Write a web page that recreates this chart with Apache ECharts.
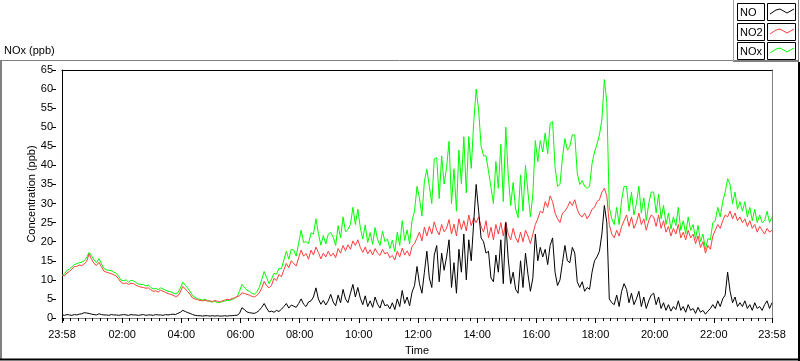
<!DOCTYPE html>
<html>
<head>
<meta charset="utf-8">
<script src="https://cdn.jsdelivr.net/npm/echarts@6/dist/echarts.min.js"></script>
<style>
html,body{margin:0;padding:0;background:#fff;}
#chart{width:800px;height:361px;}
</style>
</head>
<body>
<div id="chart"></div>
<script>
// ---- data ----
const chartTitle = 'NOx (ppb)';
const seriesNames = ['NO', 'NO2', 'NOx'];
const startMinute = -2;      // 23:58 of previous day
const stepMinutes = 5;
const xMin = -2, xMax = 1438;
const majorTickMinutes = [-2, 120, 240, 360, 480, 600, 720, 840, 960, 1080, 1200, 1320, 1438];
const yTicks = [0, 65, 5]; // min, max, interval

const no2Values = [
  11.3,11.0,11.8,12.2,12.8,13.5,13.5,13.9,13.7,14.2,14.8,16.8,
  15.4,14.3,13.8,14.6,13.4,12.3,12.0,11.8,11.6,11.3,11.0,10.2,
  9.3,9.0,9.2,8.8,9.1,9.0,8.6,8.3,8.1,8.0,7.8,7.9,
  7.4,7.0,7.1,6.8,7.3,7.0,6.7,6.4,6.2,6.0,5.6,5.8,
  6.8,8.3,7.6,6.9,6.2,5.2,5.0,4.8,4.6,4.5,4.7,4.4,
  4.5,4.3,4.6,4.4,4.2,4.5,4.7,4.9,4.8,5.1,5.3,5.6,
  5.8,6.6,6.4,6.2,6.0,5.7,5.5,5.9,6.6,7.8,9.6,8.4,
  7.9,8.6,10.4,9.8,11.4,10.8,12.6,14.3,13.2,15.0,14.3,13.6,
  15.8,17.8,16.2,16.9,15.4,17.8,16.5,18.6,17.2,15.5,17.0,16.0,
  17.5,16.2,17.0,15.8,18.2,17.0,19.0,17.6,19.2,18.0,20.2,19.0,
  20.5,18.5,17.2,18.6,16.8,17.9,16.5,18.2,17.0,16.4,18.0,16.8,
  17.2,15.8,16.4,15.2,17.5,16.0,18.3,16.5,17.6,16.2,18.8,19.5,
  21.0,22.5,20.2,23.8,21.5,24.0,22.0,25.2,23.0,21.8,24.5,22.6,
  23.5,25.8,22.0,24.6,21.5,26.0,23.2,25.5,22.8,27.0,24.2,26.2,
  25.0,26.5,24.0,22.5,25.5,21.0,23.8,20.5,24.5,22.0,25.0,21.5,
  25.2,22.0,20.5,23.5,21.0,19.8,22.5,20.0,23.0,21.5,19.5,22.0,
  24.5,26.0,28.0,27.5,30.5,29.0,32.0,30.5,27.5,26.0,25.0,27.5,
  28.0,29.0,30.5,29.5,31.0,28.5,27.0,26.5,27.5,26.0,27.0,28.5,
  29.0,30.5,31.0,33.0,34.0,32.0,24.5,22.0,21.0,23.0,21.5,24.0,
  25.5,27.0,24.0,26.5,23.5,25.0,27.5,24.5,26.0,23.0,25.5,27.0,
  26.5,24.0,27.0,23.5,25.5,22.5,24.0,21.5,23.5,22.0,24.5,21.0,
  22.5,20.5,23.0,21.0,22.0,19.5,21.5,18.5,20.0,17.0,19.0,18.0,
  21.5,23.0,24.5,23.5,25.5,27.0,26.5,28.0,26.0,27.5,25.5,26.5,
  25.0,26.0,24.0,25.5,23.5,24.5,22.5,24.0,23.0,22.0,23.5,22.5,23.0
];

const noValues = [
  0.8,0.7,0.9,0.8,0.7,0.9,0.8,1.0,1.1,1.4,1.3,1.2,
  1.0,0.9,0.8,1.1,0.9,0.8,0.8,0.7,0.9,0.8,0.8,0.7,
  0.8,0.9,0.8,0.7,0.9,0.8,0.8,0.7,0.8,0.9,0.7,0.8,
  0.8,0.7,0.9,0.8,0.8,0.7,0.9,0.8,0.9,1.0,0.9,1.2,
  1.5,2.0,1.7,1.4,1.2,0.9,0.7,0.6,0.6,0.5,0.6,0.6,
  0.5,0.6,0.5,0.6,0.5,0.5,0.6,0.5,0.6,0.6,0.7,0.7,
  1.2,2.7,2.2,1.6,1.4,1.3,1.2,1.5,2.0,2.8,3.8,2.6,
  1.6,1.8,1.5,2.0,1.7,2.3,3.0,3.8,2.6,3.4,3.1,2.8,
  3.8,5.0,3.6,3.0,4.2,4.5,5.5,7.9,5.0,3.6,4.6,3.4,
  4.5,6.2,4.2,3.2,6.0,4.0,7.5,5.0,4.0,6.5,8.8,5.5,
  8.0,5.2,3.5,5.8,3.0,4.5,2.8,5.5,3.6,2.6,4.8,3.2,
  3.5,2.4,4.0,2.2,5.0,3.0,7.2,3.8,5.5,3.2,6.8,8.5,
  13.5,9.0,6.5,12.0,17.5,10.5,8.0,16.5,19.0,9.5,17.0,12.5,
  16.0,20.5,8.0,14.5,6.5,18.0,12.0,22.0,10.0,20.5,15.0,25.0,
  35.0,28.0,21.0,20.0,17.0,17.5,10.5,9.5,16.5,12.0,20.5,9.0,
  25.0,15.5,9.0,12.0,7.5,6.5,15.0,8.0,17.0,11.5,7.0,10.5,
  22.0,15.0,18.5,16.0,18.0,14.0,19.0,21.0,12.0,8.5,10.0,14.5,
  19.0,15.0,14.5,18.5,17.0,9.5,8.0,9.5,7.0,8.0,7.5,12.0,
  15.0,16.0,17.5,22.0,29.5,25.0,5.0,4.0,3.5,6.0,3.0,7.0,
  9.0,7.5,4.0,6.5,3.5,5.0,7.0,3.0,5.5,2.5,4.5,6.0,
  6.5,3.5,5.5,2.5,4.0,2.0,3.5,1.8,3.0,2.2,4.5,2.0,
  3.0,1.5,3.5,2.0,2.5,1.2,2.8,1.5,2.0,1.0,1.8,2.5,
  3.5,2.5,4.5,3.0,5.0,6.0,12.0,7.0,4.0,5.5,3.0,4.0,
  3.0,4.5,2.5,3.5,2.0,4.0,2.5,3.0,2.0,3.5,4.5,2.5,4.0
];

const noxValues = [
  11.0,11.5,12.5,12.8,13.4,14.0,14.2,14.5,14.6,15.0,15.8,17.2,
  16.3,15.2,14.5,15.6,14.2,13.0,12.6,12.5,12.4,12.0,11.7,10.9,
  9.9,9.8,10.0,9.4,9.9,9.7,9.3,8.9,8.8,8.8,8.4,8.6,
  8.0,7.6,7.8,7.4,7.9,7.6,7.3,7.0,6.9,6.6,6.3,6.6,
  7.8,9.4,8.6,7.8,6.9,5.8,5.4,5.0,4.9,4.7,4.9,4.6,
  4.3,4.2,4.4,4.0,4.1,4.3,4.4,4.6,4.6,4.9,5.1,5.6,
  7.0,8.8,8.0,7.3,7.0,6.5,6.2,6.8,8.0,10.0,12.2,10.6,
  9.0,10.2,11.7,11.5,13.0,12.9,15.2,17.5,15.4,18.0,17.8,16.2,
  19.6,23.0,19.8,20.0,19.5,22.3,22.0,26.0,22.2,19.1,21.6,19.4,
  22.0,22.4,21.2,19.0,24.2,21.0,26.5,22.6,23.2,24.5,29.0,24.5,
  28.5,23.7,20.7,24.4,19.8,22.4,19.3,23.7,20.6,19.0,22.8,20.0,
  20.7,18.2,20.4,17.4,22.5,19.0,25.5,20.3,23.1,19.4,25.6,28.0,
  34.5,31.5,26.7,35.8,39.0,34.5,30.0,41.7,42.0,31.3,42.5,35.1,
  39.5,46.3,30.0,39.1,28.0,44.0,35.2,47.5,32.8,47.5,39.2,51.2,
  60.0,54.5,45.0,42.5,42.5,38.5,34.3,30.0,41.0,34.0,45.5,30.5,
  50.0,37.5,29.5,35.5,28.5,26.3,37.5,28.0,40.0,33.0,26.5,32.5,
  46.5,41.0,46.5,43.5,48.5,43.0,51.0,51.5,39.5,34.5,35.0,42.0,
  47.0,44.0,45.0,48.0,48.0,38.0,35.0,36.0,34.5,34.0,34.5,40.5,
  43.5,45.5,48.0,52.0,62.5,56.5,29.0,26.0,24.5,29.0,24.5,31.0,
  34.5,34.5,28.0,33.0,27.0,30.0,34.5,27.5,31.5,25.5,30.0,33.0,
  33.0,27.5,32.5,26.0,29.5,24.5,27.5,23.3,26.5,24.2,29.0,23.0,
  25.5,22.0,26.5,23.0,24.5,20.7,24.3,20.0,22.0,18.0,20.8,20.5,
  25.0,25.5,29.0,26.5,30.5,33.0,36.5,35.0,30.0,33.0,28.5,30.5,
  28.0,30.5,26.5,29.0,25.5,28.5,25.0,27.0,25.0,25.5,28.0,25.0,26.5
];

const seriesColors = ['#000000', '#ff3c3c', '#00ff00'];

// ---- helpers ----
function toPoints(values) {
  return values.map((v, i) => [startMinute + i * stepMinutes, v]);
}
function fmtTime(m) {
  let t = ((m % 1440) + 1440) % 1440;
  const h = Math.floor(t / 60), mm = Math.round(t % 60);
  return String(h).padStart(2, '0') + ':' + String(mm).padStart(2, '0');
}
const minorTicks = [];
for (let m = 0; m <= 1425; m += 15) minorTicks.push(m);

const FONT = '"Liberation Sans", Arial, sans-serif';
const chart = echarts.init(document.getElementById('chart'), null, {renderer: 'canvas'});

const grid = {left: 62, top: 70, width: 710, height: 251, containLabel: false};

// legend as graphics
const legendRows = [3, 23, 42];
const legendGraphics = [];
seriesNames.forEach((name, i) => {
  const y0 = legendRows[i];
  legendGraphics.push({type: 'rect', shape: {x: 737.5, y: y0 + 0.5, width: 27, height: 17},
    style: {fill: '#fff', stroke: '#000', lineWidth: 1}, silent: true});
  legendGraphics.push({type: 'text', x: 740, y: y0 + 9.5,
    style: {text: name, font: '11px ' + FONT, fill: '#000', verticalAlign: 'middle', align: 'left'}, silent: true});
  legendGraphics.push({type: 'rect', shape: {x: 767.5, y: y0 + 0.5, width: 28, height: 17},
    style: {fill: '#fff', stroke: '#000', lineWidth: 1}, silent: true});
  legendGraphics.push({type: 'polyline', x: 768, y: y0,
    shape: {points: [[2, 11], [8, 7], [12, 6], [19, 10], [26, 6]]},
    style: {stroke: seriesColors[i], lineWidth: 1, fill: null}, silent: true});
});

const frameGraphics = [
  {type: 'line', shape: {x1: 0, y1: 60.5, x2: 799, y2: 60.5}, style: {stroke: '#808080', lineWidth: 1}, silent: true},
  {type: 'rect', shape: {x: 733, y: 60, width: 66, height: 2}, style: {fill: '#808080'}, silent: true},
  {type: 'line', shape: {x1: 733.5, y1: 0, x2: 733.5, y2: 61}, style: {stroke: '#a0a0a0', lineWidth: 1}, silent: true},
  {type: 'line', shape: {x1: 798.5, y1: 0, x2: 798.5, y2: 61}, style: {stroke: '#808080', lineWidth: 1}, silent: true},
  {type: 'rect', shape: {x: 0, y: 61, width: 2, height: 299}, style: {fill: '#808080'}, silent: true},
  {type: 'rect', shape: {x: 0, y: 358.5, width: 800, height: 2}, style: {fill: '#000'}, silent: true},
  {type: 'rect', shape: {x: 798, y: 62, width: 2, height: 299}, style: {fill: '#000'}, silent: true},
  {type: 'text', x: 4, y: 51,
    style: {text: chartTitle, font: '11px ' + FONT, fill: '#000', verticalAlign: 'middle', align: 'left'}, silent: true}
];

const option = {
  animation: false,
  backgroundColor: '#fff',
  textStyle: {fontFamily: FONT},
  grid: grid,
  xAxis: [
    {
      type: 'value', min: xMin, max: xMax, position: 'bottom',
      name: 'Time', nameLocation: 'middle', nameGap: 27, nameMoveOverlap: false,
      nameTextStyle: {color: '#000', fontSize: 11, fontFamily: FONT},
      axisLine: {show: true, onZero: false, lineStyle: {color: '#808080', width: 1}},
      axisTick: {show: true, inside: false, length: 5, lineStyle: {color: '#000', width: 1}, customValues: majorTickMinutes},
      axisLabel: {show: true, color: '#000', fontSize: 11, fontFamily: FONT, margin: 11,
        customValues: majorTickMinutes, formatter: v => fmtTime(v), hideOverlap: false},
      splitLine: {show: false}
    },
    {
      type: 'value', min: xMin, max: xMax, position: 'bottom', gridIndex: 0,
      axisLine: {show: false, onZero: false},
      axisTick: {show: true, inside: false, length: 3, lineStyle: {color: '#000', width: 1}, customValues: minorTicks},
      axisLabel: {show: false},
      splitLine: {show: false}
    },
    {
      type: 'value', min: xMin, max: xMax, position: 'top', gridIndex: 0,
      axisLine: {show: true, onZero: false, lineStyle: {color: '#000', width: 1}},
      axisTick: {show: false}, axisLabel: {show: false}, splitLine: {show: false}
    }
  ],
  yAxis: [
    {
      type: 'value', min: yTicks[0], max: yTicks[1], interval: yTicks[2], position: 'left', offset: 6,
      name: 'Concentration (ppb)', nameLocation: 'middle', nameRotate: 90, nameGap: 19, nameMoveOverlap: false,
      nameTextStyle: {color: '#000', fontSize: 11, fontFamily: FONT},
      axisLine: {show: false, onZero: false},
      axisTick: {show: true, inside: false, length: 4, lineStyle: {color: '#000', width: 1}},
      axisLabel: {show: true, color: '#000', fontSize: 11, fontFamily: FONT, margin: 3},
      splitLine: {show: false}
    },
    {
      type: 'value', min: yTicks[0], max: yTicks[1], position: 'left', offset: 0,
      axisLine: {show: true, onZero: false, lineStyle: {color: '#000', width: 1}},
      axisTick: {show: false}, axisLabel: {show: false}, splitLine: {show: false}
    },
    {
      type: 'value', min: yTicks[0], max: yTicks[1], position: 'right', offset: 0,
      axisLine: {show: true, onZero: false, lineStyle: {color: '#808080', width: 1}},
      axisTick: {show: false}, axisLabel: {show: false}, splitLine: {show: false}
    }
  ],
  series: [
    {name: 'NOx', type: 'line', data: toPoints(noxValues), xAxisIndex: 0, yAxisIndex: 0,
      showSymbol: false, symbol: 'none', lineStyle: {color: seriesColors[2], width: 1}, itemStyle: {color: seriesColors[2]}, silent: true},
    {name: 'NO2', type: 'line', data: toPoints(no2Values), xAxisIndex: 0, yAxisIndex: 0,
      showSymbol: false, symbol: 'none', lineStyle: {color: seriesColors[1], width: 1}, itemStyle: {color: seriesColors[1]}, silent: true},
    {name: 'NO', type: 'line', data: toPoints(noValues), xAxisIndex: 0, yAxisIndex: 0,
      showSymbol: false, symbol: 'none', lineStyle: {color: seriesColors[0], width: 1}, itemStyle: {color: seriesColors[0]}, silent: true}
  ],
  graphic: frameGraphics.concat(legendGraphics)
};
chart.setOption(option);
</script>
</body>
</html>
